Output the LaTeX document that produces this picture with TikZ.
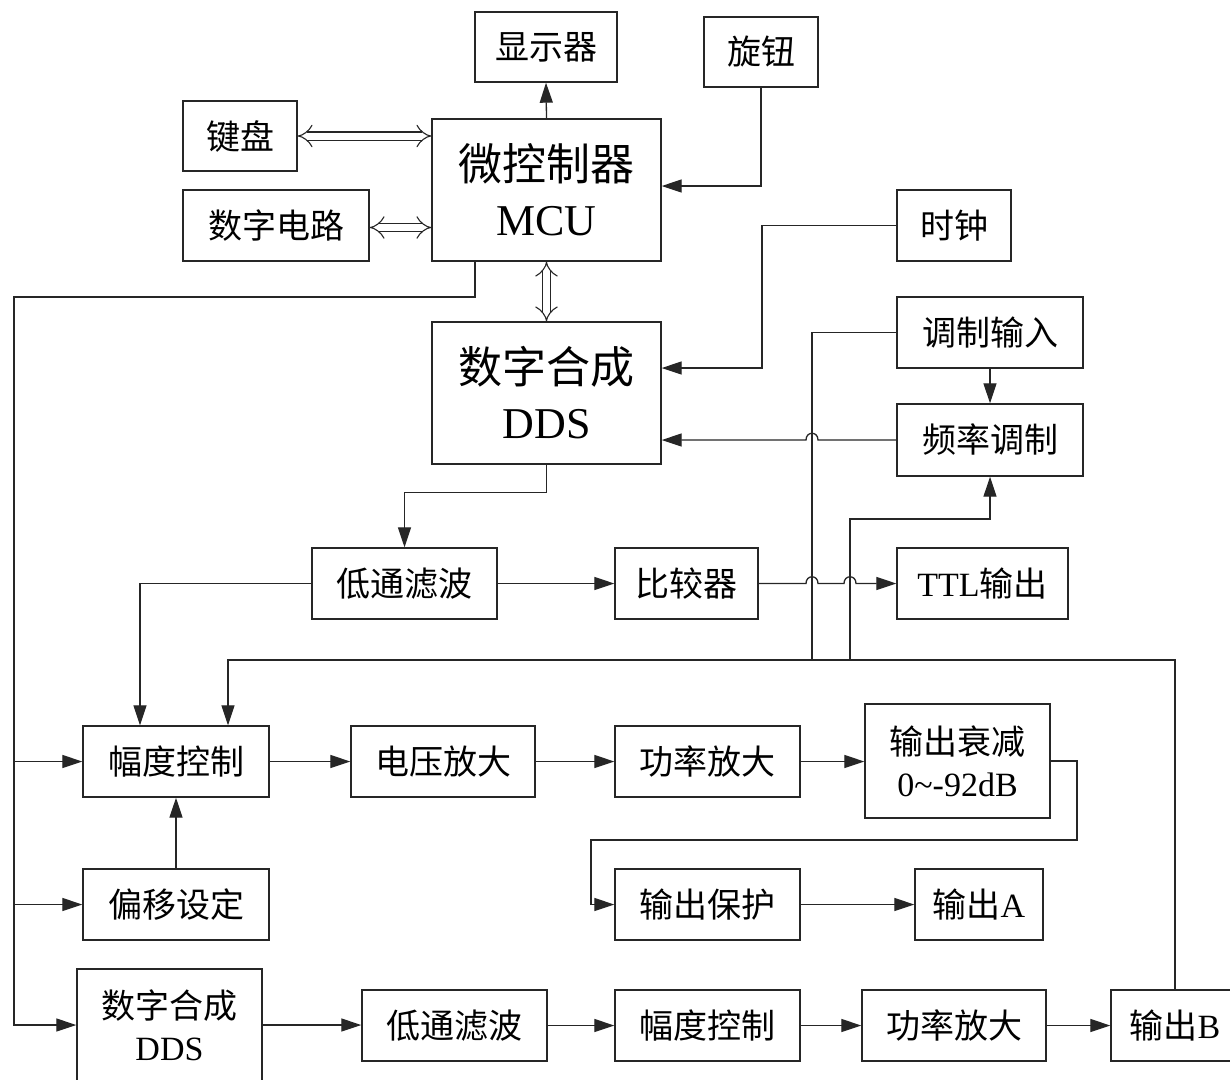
\documentclass[tikz,border=0pt]{standalone}
\usepackage{fontspec}
\setmainfont{Liberation Serif}
\newfontfamily\cjk{Noto Sans CJK SC}
\newcommand\zh[1]{{\cjk #1}}
\usetikzlibrary{arrows.meta}
\begin{document}
\begin{tikzpicture}[x=1pt,y=-1pt,
  line width=1.3pt, draw=black!85,
  box/.style={draw=black!85, line width=1.4pt, inner sep=0pt, align=center,
    font=\fontsize{34}{42}\selectfont},
  big/.style={font=\fontsize{44}{55}\selectfont},
  arr/.style={-{Triangle[length=20pt,width=13pt]}},
  dbl/.style={double=white, double distance=7pt, line width=1.1pt,
    {Implies[length=9pt,width=22pt]}-{Implies[length=9pt,width=22pt]}}]
\useasboundingbox (0,0) rectangle (1230,1079);
\clip (0,0) rectangle (1230,1079);
% nodes
\node[box, minimum width=142pt, minimum height=70pt] (disp) at (546,47) {\zh{显示器}};
\node[box, minimum width=114pt, minimum height=70pt] (knob) at (761,52) {\zh{旋钮}};
\node[box, minimum width=114pt, minimum height=70pt] (kbd) at (240,136) {\zh{键盘}};
\node[box, minimum width=186pt, minimum height=71pt] (dig) at (276,225.5) {\zh{数字电路}};
\node[box, big, minimum width=229pt, minimum height=142pt] (mcu) at (546.5,190) {\zh{微控制器}\\MCU};
\node[box, minimum width=114pt, minimum height=71pt] (clk) at (954,225.5) {\zh{时钟}};
\node[box, big, minimum width=229pt, minimum height=142pt] (dds) at (546.5,393) {\zh{数字合成}\\DDS};
\node[box, minimum width=186pt, minimum height=71pt] (modin) at (990,332.5) {\zh{调制输入}};
\node[box, minimum width=186pt, minimum height=72pt] (fm) at (990,440) {\zh{频率调制}};
\node[box, minimum width=185pt, minimum height=71pt] (lpf) at (404.5,583.5) {\zh{低通滤波}};
\node[box, minimum width=143pt, minimum height=71pt] (cmp) at (686.5,583.5) {\zh{比较器}};
\node[box, minimum width=171pt, minimum height=71pt] (ttl) at (982.5,583.5) {TTL\zh{输出}};
\node[box, minimum width=186pt, minimum height=71pt] (amp) at (176,761.5) {\zh{幅度控制}};
\node[box, minimum width=184pt, minimum height=71pt] (vamp) at (443,761.5) {\zh{电压放大}};
\node[box, minimum width=185pt, minimum height=71pt] (pamp) at (707.5,761.5) {\zh{功率放大}};
\node[box, minimum width=185pt, minimum height=114pt] (att) at (957.5,761) {\zh{输出衰减}\\0\textasciitilde-92dB};
\node[box, minimum width=186pt, minimum height=71pt] (off) at (176,904.5) {\zh{偏移设定}};
\node[box, minimum width=185pt, minimum height=71pt] (prot) at (707.5,904.5) {\zh{输出保护}};
\node[box, minimum width=128pt, minimum height=71pt] (outA) at (979,904.5) {\zh{输出}A};
\node[box, minimum width=185pt, minimum height=112pt] (dds2) at (169.5,1025) {\zh{数字合成}\\DDS};
\node[box, minimum width=185pt, minimum height=71pt] (lpf2) at (454.5,1025.5) {\zh{低通滤波}};
\node[box, minimum width=185pt, minimum height=71pt] (amp2) at (707.5,1025.5) {\zh{幅度控制}};
\node[box, minimum width=184pt, minimum height=71pt] (pamp2) at (954,1025.5) {\zh{功率放大}};
\node[box, minimum width=128pt, minimum height=71pt] (outB) at (1175,1025.5) {\zh{输出}B};
% helper coordinates
\coordinate (b1) at (14,297);
\coordinate (c1) at (762,368);
\coordinate (h1) at (812,660);
\coordinate (h2) at (850,660);
\coordinate (h3) at (228,660);
\coordinate (a1) at (1077,840);
\coordinate (a2) at (591,840);
\coordinate (f1) at (850,519);
% connectors
\draw[arr] (mcu.north) -- (disp.south);
\draw[arr] (knob.south) |- ([yshift=4pt]mcu.east);
\draw[dbl] (kbd.east) -- (kbd.east -| mcu.west);
\draw[dbl] ([yshift=-2pt]dig.east) -- ([yshift=-2pt]dig.east -| mcu.west);
\draw[dbl] (mcu.south) -- (dds.north);
\draw[arr] ([xshift=-71.5pt]mcu.south) |- (b1) |- (dds2.west);
\draw[arr] (amp.west -| b1) -- (amp.west);
\draw[arr] (off.west -| b1) -- (off.west);
\draw[arr] (clk.west) -| (c1) -- (c1 -| dds.east);
\draw[arr] (fm.west) -- (818,440) .. controls (818,431) and (806,431) .. (806,440) -- (fm.west -| dds.east);
\draw (modin.west) -| (h1);
\draw[arr] (modin.south) -- (fm.north);
\draw[arr] (h2) -- (f1) -| (fm.south);
\draw[arr] (outB.north) |- (h3) -- (h3 |- amp.north);
\draw[arr] (dds.south) -- ++(0,28) -| (lpf.north);
\draw[arr] (lpf) -- (cmp);
\draw[arr] (lpf.west) -| ([xshift=-36pt]amp.north);
\draw[arr] (cmp.east) -- (806,583.5) .. controls (806,574.5) and (818,574.5) .. (818,583.5)
  -- (844,583.5) .. controls (844,574.5) and (856,574.5) .. (856,583.5) -- (ttl.west);
\draw[arr] (amp) -- (vamp);
\draw[arr] (vamp) -- (pamp);
\draw[arr] (pamp.east) -- (pamp.east -| att.west);
\draw[arr] (att.east) -| (a1) -- (a2) |- (prot.west);
\draw[arr] (prot) -- (outA);
\draw[arr] (off) -- (amp);
\draw[arr] (dds2.east) -- (dds2.east -| lpf2.west);
\draw[arr] (lpf2) -- (amp2);
\draw[arr] (amp2) -- (pamp2);
\draw[arr] (pamp2) -- (outB);
\end{tikzpicture}
\end{document}
